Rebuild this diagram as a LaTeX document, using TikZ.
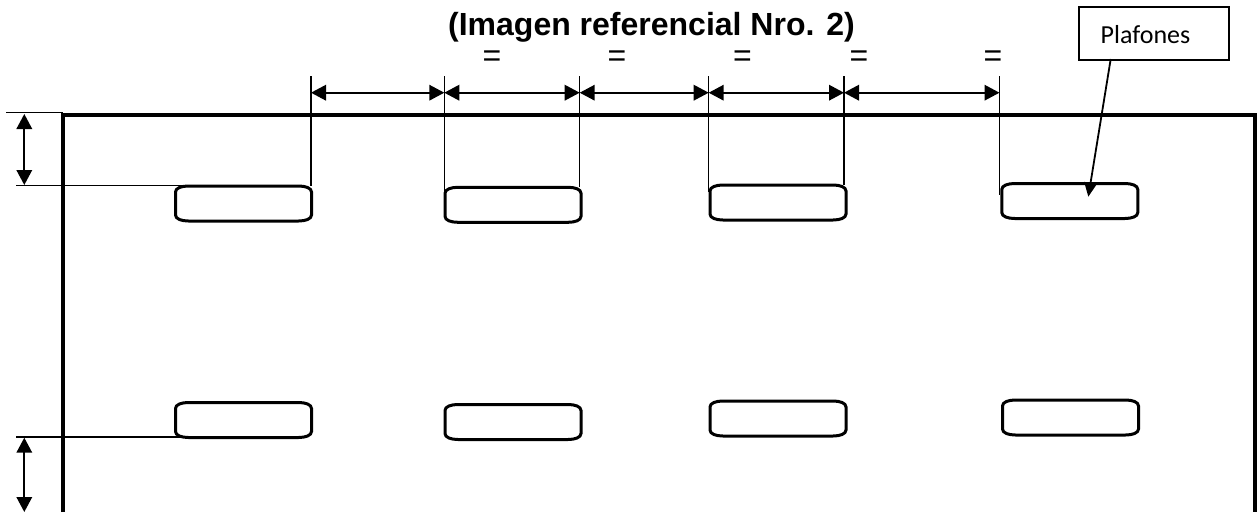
\documentclass[tikz,border=0pt]{standalone}
\usepackage{fontspec}
\setmainfont{Liberation Sans}
\newfontfamily\calib{Carlito}
\usetikzlibrary{arrows.meta,calc}
\tikzset{
  plafbase/.style={minimum width=136pt,minimum height=35pt,inner sep=0pt,outer sep=0pt,anchor=north west},
  plafline/.style={line width=3pt},
  thinline/.style={line width=1.3pt},
  frameline/.style={line width=3.6pt},
  dimarrow/.style={line width=1.8pt,{Triangle[length=15pt,width=15.5pt]}-{Triangle[length=15pt,width=15.5pt]}},
  eqmark/.style={font=\fontsize{32}{32}\selectfont,inner sep=0pt},
  callout/.style={draw,line width=1.5pt,minimum width=150pt,minimum height=53pt,inner sep=0pt,anchor=north west}
}
\newcommand{\plafon}[3]{%
  \node[plafbase] (#1) at (#2,#3) {};
  \draw[plafline,shift={(#1.north west)}] (13,0) -- (123,0) .. controls (130,0) and (136,2) .. (136,6) -- (136,29) .. controls (136,33) and (130,35) .. (123,35) -- (13,35) .. controls (6,35) and (0,33) .. (0,29) -- (0,6) .. controls (0,2) and (6,0) .. (13,0) -- cycle;
}
\begin{document}
\begin{tikzpicture}[x=1pt,y=-1pt]
\useasboundingbox (0,0) rectangle (1258,512);
% outer frame
\coordinate (fbl) at (63,512);
\coordinate (ftl) at (63,114.7);
\coordinate (ftr) at (1255,114.7);
\coordinate (fbr) at (1255,512);
\draw[frameline] (fbl) -- (ftl) -- (ftr) -- (fbr);
% plafones
\plafon{p1}{175.5}{186}
\plafon{p2}{445}{187.3}
\plafon{p3}{710}{185}
\plafon{p4}{1001.8}{183.5}
\plafon{p5}{175.5}{402.5}
\plafon{p6}{445}{404.5}
\plafon{p7}{710}{401}
\plafon{p8}{1002.5}{400}
% witness lines
\coordinate (w1) at (311,76);
\coordinate (w2) at (444.3,76);
\coordinate (w3) at (579.7,76);
\coordinate (w4) at (708.7,76);
\coordinate (w5) at (844,76);
\coordinate (w6) at (999.5,76);
\draw[thinline] (w1) -- (w1 |- p1.north);
\draw[thinline] (w2) -- ($(w2 |- p2.north)+(0,8)$);
\draw[thinline] (w3) -- (w3 |- p2.north);
\draw[thinline] (w4) -- ($(w4 |- p3.north)+(0,7)$);
\draw[thinline] (w5) -- (w5 |- p3.north);
\draw[thinline] (w6) -- ($(w6 |- p4.north)+(0,11)$);
% horizontal dimensions
\coordinate (a1) at (311,92.7);
\coordinate (a2) at (444.3,92.7);
\coordinate (a3) at (579.7,92.7);
\coordinate (a4) at (708.7,92.7);
\coordinate (a5) at (844,92.7);
\coordinate (a6) at (999.5,92.7);
\draw[dimarrow] (a1) -- (a2);
\draw[dimarrow] (a2) -- (a3);
\draw[dimarrow] (a3) -- (a4);
\draw[dimarrow] (a4) -- (a5);
\draw[dimarrow] (a5) -- (a6);
% left dimension lines
\coordinate (l1) at (6,112.8);
\coordinate (l1e) at (63,112.8);
\coordinate (l2) at (16,185.3);
\coordinate (l3) at (16,437);
\coordinate (d1) at (24.3,114);
\coordinate (d2) at (24.3,185);
\coordinate (d3) at (24.3,437.7);
\coordinate (d4) at (24.3,512);
\draw[thinline] (l1) -- (l1e);
\draw[thinline] (l2) -- ($(p1.north west)+(12,-0.7)$);
\draw[thinline] (l3) -- ($(p5.south west)+(6,-0.5)$);
\draw[dimarrow] (d1) -- (d2);
\draw[dimarrow] (d3) -- (d4);
% texts
\node[font=\bfseries\fontsize{32}{32}\selectfont,inner sep=0pt,anchor=base] (title) at (651.5,35) {(Imagen referencial Nro. 2)};
\node[eqmark] (e1) at (492,59) {=};
\node[eqmark] (e2) at (617,59) {=};
\node[eqmark] (e3) at (742.5,59) {=};
\node[eqmark] (e4) at (859,59) {=};
\node[eqmark] (e5) at (993,59) {=};
% callout
\node[callout] (c) at (1078,6) {};
\node[font=\calib\fontsize{26}{26}\selectfont,inner sep=0pt,anchor=base] (clabel) at (1145.5,43) {Plafones};
\coordinate (cs) at (1110.7,59);
\coordinate (ct) at (1088.3,196.7);
\draw[line width=1.8pt,-{Triangle[length=14pt,width=12.5pt]}] (cs) -- (ct);
\end{tikzpicture}
\end{document}
